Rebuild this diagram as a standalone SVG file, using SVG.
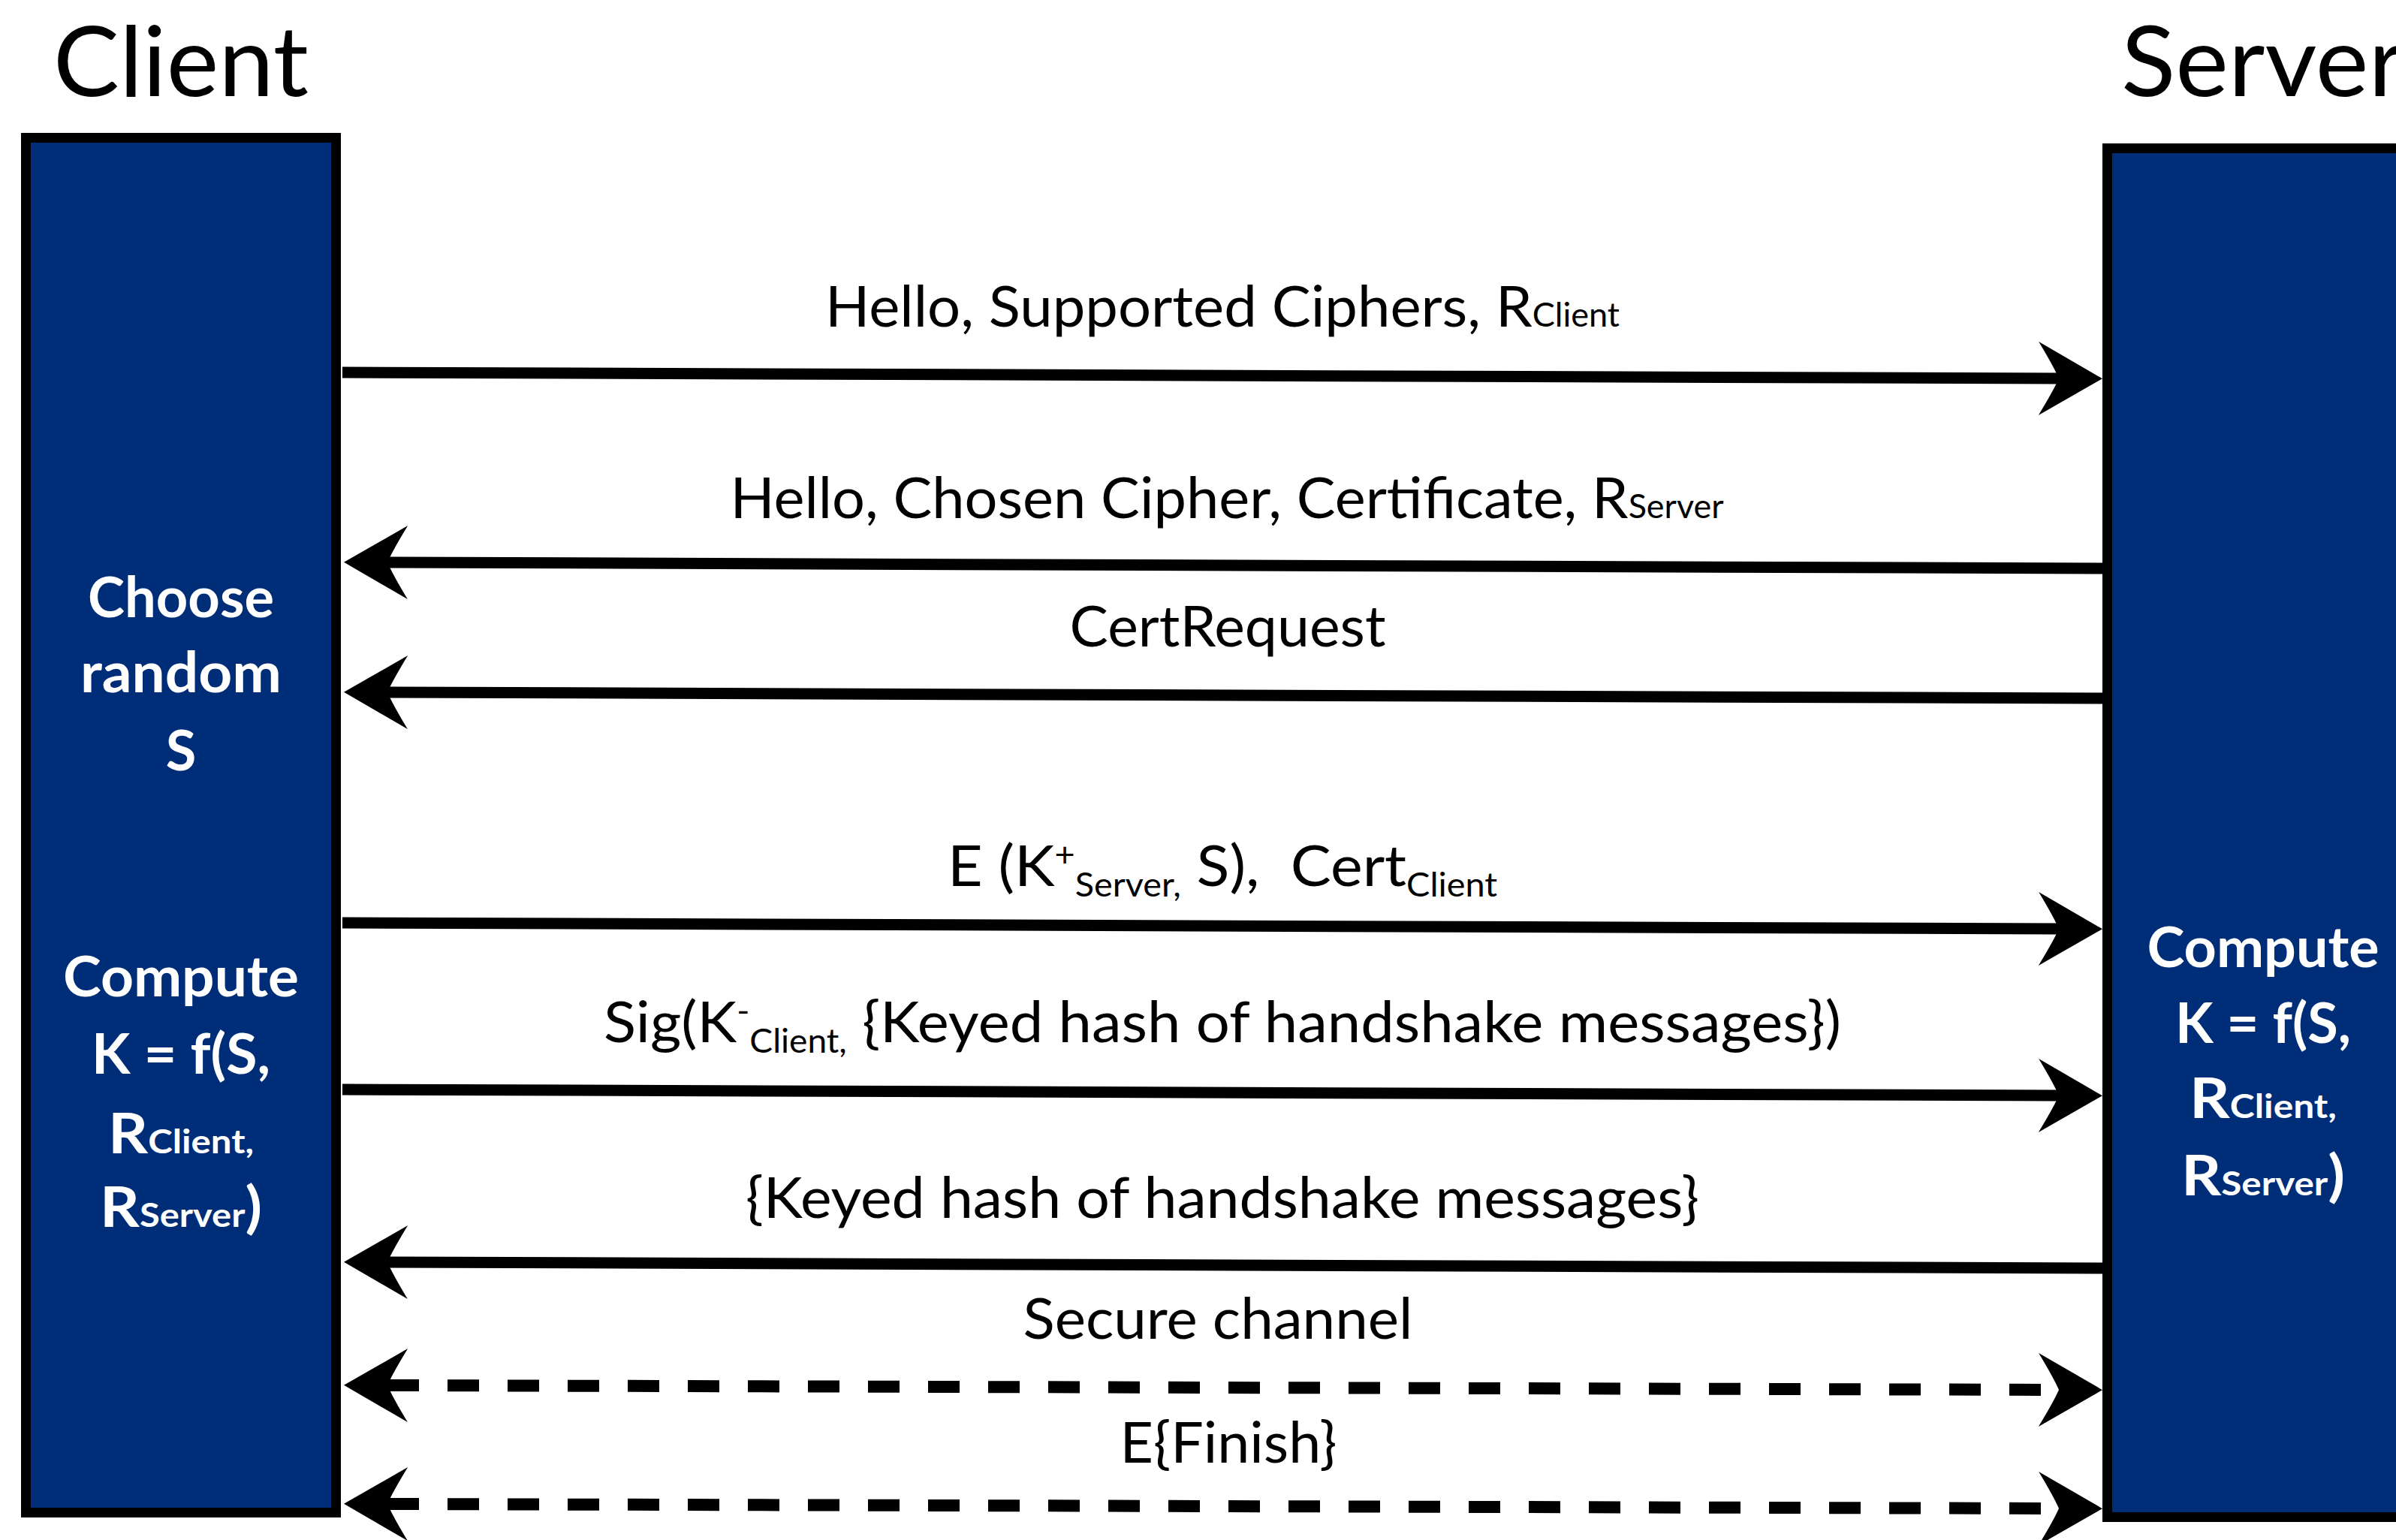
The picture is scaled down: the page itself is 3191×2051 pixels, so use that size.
<svg xmlns="http://www.w3.org/2000/svg" width="3191" height="2051" viewBox="0 0 3191 2051">
  <defs>
    <style>
      .party { fill: #002d78; stroke: #000; stroke-width: 13; }
      .title { font-family: Lato, "Noto Sans", sans-serif; font-size: 130px; fill: #000; }
      .inbox { font-family: Lato, "Noto Sans", sans-serif; font-size: 74px; font-weight: 700; fill: #fff; text-anchor: middle; }
      .lbl { font-family: Lato, "Noto Sans", sans-serif; font-size: 76px; fill: #000; text-anchor: middle; }
      .sm { font-size: 44px; }
      .msg { stroke: #000; stroke-width: 15; fill: none; }
      .dash { stroke-dasharray: 42 38; stroke-width: 16; }
    </style>
    <!-- barbed arrowhead; refX sits on the notch where the shaft ends -->
    <marker id="head" viewBox="0 -50 88 100" refX="29" refY="0" markerWidth="88" markerHeight="100" markerUnits="userSpaceOnUse" orient="auto-start-reverse">
      <path d="M87,0 L2,-49 Q22,-16 29,0 Q22,16 2,49 Z" fill="#000"/>
    </marker>
  </defs>

  <rect width="3191" height="2051" fill="#fff"/>

  <!-- Client lifeline -->
  <g id="client">
    <text class="title" x="71" y="128" textLength="340" lengthAdjust="spacingAndGlyphs">Client</text>
    <rect class="party" x="34.5" y="183.5" width="413" height="1831"/>
    <text class="inbox" x="241" y="822" textLength="248" lengthAdjust="spacingAndGlyphs">Choose</text>
    <text class="inbox" x="241" y="922" textLength="268" lengthAdjust="spacingAndGlyphs">random</text>
    <text class="inbox" x="241" y="1026">S</text>
    <text class="inbox" x="241" y="1327" textLength="314" lengthAdjust="spacingAndGlyphs">Compute</text>
    <text class="inbox" x="241" y="1430" textLength="238" lengthAdjust="spacingAndGlyphs">K = f(S,</text>
    <text class="inbox" x="241" y="1536" textLength="194" lengthAdjust="spacingAndGlyphs">R<tspan class="sm">Client,</tspan></text>
    <text class="inbox" x="241" y="1634" textLength="216" lengthAdjust="spacingAndGlyphs">R<tspan class="sm">Server</tspan>)</text>
  </g>

  <!-- Server lifeline -->
  <g id="server">
    <text class="title" x="2825" y="128" textLength="378" lengthAdjust="spacingAndGlyphs">Server</text>
    <rect class="party" x="2806.5" y="197.5" width="500" height="1823"/>
    <text class="inbox" x="3014" y="1288" textLength="309" lengthAdjust="spacingAndGlyphs">Compute</text>
    <text class="inbox" x="3014" y="1389" textLength="234" lengthAdjust="spacingAndGlyphs">K = f(S,</text>
    <text class="inbox" x="3014" y="1489" textLength="196" lengthAdjust="spacingAndGlyphs">R<tspan class="sm">Client,</tspan></text>
    <text class="inbox" x="3014" y="1592" textLength="218" lengthAdjust="spacingAndGlyphs">R<tspan class="sm">Server</tspan>)</text>
  </g>

  <!-- Handshake messages -->
  <g id="connectors">
    <line class="msg" x1="456" y1="496" x2="2742" y2="504" marker-end="url(#head)"/>
    <line class="msg" x1="2800" y1="757" x2="516" y2="749" marker-end="url(#head)"/>
    <line class="msg" x1="2800" y1="930" x2="516" y2="922" marker-end="url(#head)"/>
    <line class="msg" x1="456" y1="1229" x2="2742" y2="1237" marker-end="url(#head)"/>
    <line class="msg" x1="456" y1="1451" x2="2742" y2="1459" marker-end="url(#head)"/>
    <line class="msg" x1="2800" y1="1689" x2="516" y2="1681" marker-end="url(#head)"/>
    <line class="msg dash" x1="516" y1="1845" x2="2742" y2="1851" marker-start="url(#head)" marker-end="url(#head)"/>
    <line class="msg dash" x1="516" y1="2003" x2="2742" y2="2009" marker-start="url(#head)" marker-end="url(#head)"/>
  </g>

  <g id="labels">
    <text class="lbl" x="1628" y="435" textLength="1058" lengthAdjust="spacingAndGlyphs">Hello, Supported Ciphers, R<tspan class="sm">Client</tspan></text>
    <text class="lbl" x="1634" y="690" textLength="1323" lengthAdjust="spacingAndGlyphs">Hello, Chosen Cipher, Certificate, R<tspan class="sm">Server</tspan></text>
    <text class="lbl" x="1635" y="861" textLength="421" lengthAdjust="spacingAndGlyphs">CertRequest</text>
    <text class="lbl" x="1628" y="1180" textLength="732" lengthAdjust="spacingAndGlyphs">E (K<tspan class="sm" dy="-26">+</tspan><tspan class="sm" dy="40">Server,</tspan><tspan dy="-14"> S),&#160; Cert</tspan><tspan class="sm" dy="14">Client</tspan></text>
    <text class="lbl" x="1628" y="1388" textLength="1648" lengthAdjust="spacingAndGlyphs">Sig(K<tspan class="sm" dy="-26">-</tspan><tspan class="sm" dy="40">Client,</tspan><tspan dy="-14"> {Keyed hash of handshake messages})</tspan></text>
    <text class="lbl" x="1628" y="1622" textLength="1270" lengthAdjust="spacingAndGlyphs">{Keyed hash of handshake messages}</text>
    <text class="lbl" x="1622" y="1783" textLength="519" lengthAdjust="spacingAndGlyphs">Secure channel</text>
    <text class="lbl" x="1636" y="1948" textLength="289" lengthAdjust="spacingAndGlyphs">E{Finish}</text>
  </g>
</svg>
